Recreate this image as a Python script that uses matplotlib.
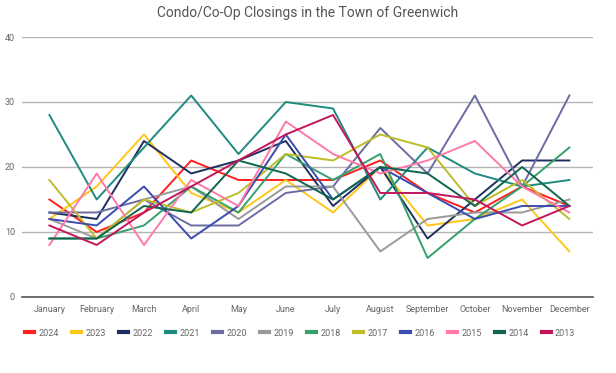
import matplotlib
matplotlib.use("Agg")
import matplotlib.pyplot as plt
from matplotlib.lines import Line2D

plt.rcParams['font.family'] = ['Roboto', 'DejaVu Sans']

# Dane
miesiace = ["January", "February", "March", "April", "May", "June",
            "July", "August", "September", "October", "November", "December"]

lata = ["2024", "2023", "2022", "2021", "2020", "2019",
        "2018", "2017", "2016", "2015", "2014", "2013"]

s2024 = [15, 10, 13, 21, 18, 18, 18, 21, 16, 13, 17, 14]
s2023 = [12, 17, 25, 16, 13, 18, 13, 20, 11, 12, 15, 7]
s2022 = [13, 12, 24, 19, 21, 24, 14, 20, 9, 15, 21, 21]
s2021 = [28, 15, 23, 31, 22, 30, 29, 15, 23, 19, 17, 18]
s2020 = [13, 13, 15, 11, 11, 16, 17, 26, 19, 31, 17, 31]
s2019 = [12, 9, 15, 17, 12, 17, 17, 7, 12, 13, 13, 15]
s2018 = [9, 9, 11, 17, 13, 22, 18, 22, 6, 12, 17, 23]
s2017 = [18, 9, 15, 13, 16, 22, 21, 25, 23, 14, 18, 12]
s2016 = [12, 11, 17, 9, 14, 25, 15, 20, 16, 12, 14, 14]
s2015 = [8, 19, 8, 18, 14, 27, 22, 19, 21, 24, 17, 13]
s2014 = [9, 9, 14, 13, 21, 19, 15, 20, 19, 14, 20, 14]
s2013 = [11, 8, 13, 17, 21, 25, 28, 16, 16, 15, 11, 14]

serie = [s2024, s2023, s2022, s2021, s2020, s2019,
         s2018, s2017, s2016, s2015, s2014, s2013]

kolory = ["#ff1f1f", "#ffc61a", "#1d2f5f", "#1f8a80", "#6c6ca3", "#9a9a9a",
          "#35a06b", "#bdbd2a", "#3a4db0", "#ff7aa6", "#0f6650", "#c2185b"]

fig = plt.figure(figsize=(6.16, 3.73), dpi=100)
ax = fig.add_axes([0.0357, 0.2038, 0.927, 0.697])

x = list(range(len(miesiace)))
for dane, kolor in zip(serie, kolory):
    ax.plot(x, dane, color=kolor, lw=1.4)

ax.set_ylim(0, 40)
ax.set_yticks([0, 10, 20, 30, 40])
ax.set_xlim(-0.58, 11.5)
ax.set_xticks(x)
ax.set_xticklabels(miesiace)

for s in ["top", "right", "left"]:
    ax.spines[s].set_visible(False)
ax.spines["bottom"].set_color("#555555")
ax.spines["bottom"].set_linewidth(1.2)
ax.grid(axis="y", color="#b4b4b4", lw=1.0)
ax.set_axisbelow(True)
ax.tick_params(axis="both", length=0, labelsize=6.5, colors="#666666")
ax.tick_params(axis="x", pad=6)
ax.tick_params(axis="y", pad=5)

fig.suptitle("Condo/Co-Op Closings in the Town of Greenwich",
             fontsize=10, color="#555555", y=0.985)

# Legenda
uchwyty = [Line2D([0], [0], color=k, lw=3) for k in kolory]
fig.legend(uchwyty, lata, loc="center", bbox_to_anchor=(0.487, 0.107),
           ncol=12, frameon=False, fontsize=6.5, labelcolor="#666666",
           handlelength=1.0, handletextpad=0.5, columnspacing=1.45)

fig.savefig("out.png", dpi=100)
